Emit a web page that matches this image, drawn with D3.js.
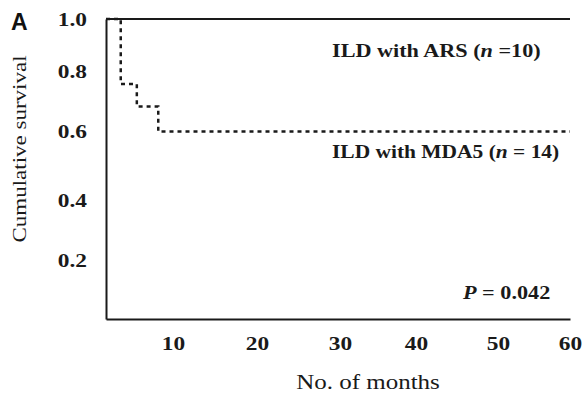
<!DOCTYPE html>
<html>
<head>
<meta charset="utf-8">
<script src="https://cdn.jsdelivr.net/npm/d3@7"></script>
<style>
  html, body { margin: 0; padding: 0; background: #ffffff; }
  svg { display: block; }
</style>
</head>
<body>
<svg id="chart" width="584" height="395"></svg>
<script>
// Kaplan–Meier survival, ILD with ARS vs ILD with MDA5
const arsMonths = [0, 60];
const arsSurvival = [1.0, 1.0];

const mda5Months = [0, 2.2, 4.6, 7.8, 60];
const mda5Survival = [1.0, 0.757, 0.683, 0.6, 0.6];

const xTicks = [10, 20, 30, 40, 50, 60];
const yTicks = [0.2, 0.4, 0.6, 0.8, 1.0];

const panelLetter = "A";
const xTitle = "No. of months";
const yTitle = "Cumulative survival";
const pValue = "0.042";

// axis breakpoints as printed on the figure
const xBreaks = [0, 10, 20, 30, 40, 50, 60];
const xBreakPx = [106, 173, 257, 340, 416, 498, 570];
const yBreaks = [0, 0.2, 0.4, 0.6, 0.8, 1.0];
const yBreakPx = [319, 260, 200, 131.5, 71, 19];

const svg = d3.select("#chart");
const ink = "#1a1a1a";
const serif = "'Liberation Serif', 'Times New Roman', serif";
const stretch = 1.2; // the typeface is set wide

const x = d3.scaleLinear().domain(xBreaks).range(xBreakPx);
const y = d3.scaleLinear().domain(yBreaks).range(yBreakPx);

// step-after curves
const toPoints = (ms, ss) => ms.map((m, i) => [m, ss[i]]);
const line = d3.line()
  .x(d => x(d[0]))
  .y(d => y(d[1]))
  .curve(d3.curveStepAfter);

// axes
const xAxis = svg.append("g")
  .attr("transform", `translate(0,${y(0)})`)
  .call(d3.axisBottom(x).tickValues(xTicks).tickFormat(d3.format("d"))
    .tickSize(0).tickSizeOuter(0).tickPadding(17));

const yPad = 19;
const yAxis = svg.append("g")
  .attr("transform", `translate(${x(0)},0)`)
  .call(d3.axisLeft(y).tickValues(yTicks).tickFormat(d3.format(".1f"))
    .tickSize(0).tickSizeOuter(0).tickPadding(yPad));

[xAxis, yAxis].forEach(g => {
  g.select(".domain").attr("stroke", ink).attr("stroke-width", 2);
  g.selectAll("text")
    .attr("fill", ink)
    .style("font-family", serif)
    .style("font-weight", "bold")
    .style("font-size", "19.5px");
});
xAxis.selectAll("text").attr("transform", `scale(${stretch},1)`);
yAxis.selectAll("text").attr("x", 0)
  .attr("transform", `translate(${-yPad},0) scale(${stretch},1)`);

// survival curves
svg.append("path")
  .datum(toPoints(arsMonths, arsSurvival))
  .attr("d", line)
  .attr("fill", "none")
  .attr("stroke", ink)
  .attr("stroke-width", 2);

svg.append("path")
  .datum(toPoints(mda5Months, mda5Survival))
  .attr("d", line)
  .attr("fill", "none")
  .attr("stroke", ink)
  .attr("stroke-width", 2.5)
  .attr("stroke-dasharray", "4,4");

// curve labels
const label = (tx, ty, sx, parts) => {
  const t = svg.append("text")
    .attr("transform", `translate(${tx},${ty}) scale(${sx},1)`)
    .attr("fill", ink)
    .style("font-family", serif)
    .style("font-weight", "bold")
    .style("font-size", "18.5px");
  parts.forEach(p => {
    t.append("tspan").text(p[0]).style("font-style", p[1] ? "italic" : "normal");
  });
  return t;
};

label(332, 57, stretch, [["ILD with ARS (", false], ["n", true], [" =10)", false]]);
label(332, 158, 1.16, [["ILD with MDA5 (", false], ["n", true], [" = 14)", false]]);
label(463, 299, stretch, [["P", true], [" = " + pValue, false]]);

// axis titles
svg.append("text")
  .attr("transform", `translate(368,389) scale(${stretch + 0.05},1)`)
  .attr("text-anchor", "middle")
  .attr("fill", ink)
  .style("font-family", serif)
  .style("font-size", "20px")
  .text(xTitle);

svg.append("text")
  .attr("transform", `translate(26,149) rotate(-90) scale(1.18,1)`)
  .attr("text-anchor", "middle")
  .attr("fill", ink)
  .style("font-family", serif)
  .style("font-size", "19.5px")
  .text(yTitle);

// panel letter
svg.append("text")
  .attr("x", 11).attr("y", 30)
  .attr("fill", "#111")
  .style("font-family", "'Liberation Sans', Arial, sans-serif")
  .style("font-weight", "bold")
  .style("font-size", "23px")
  .text(panelLetter);
</script>
</body>
</html>
